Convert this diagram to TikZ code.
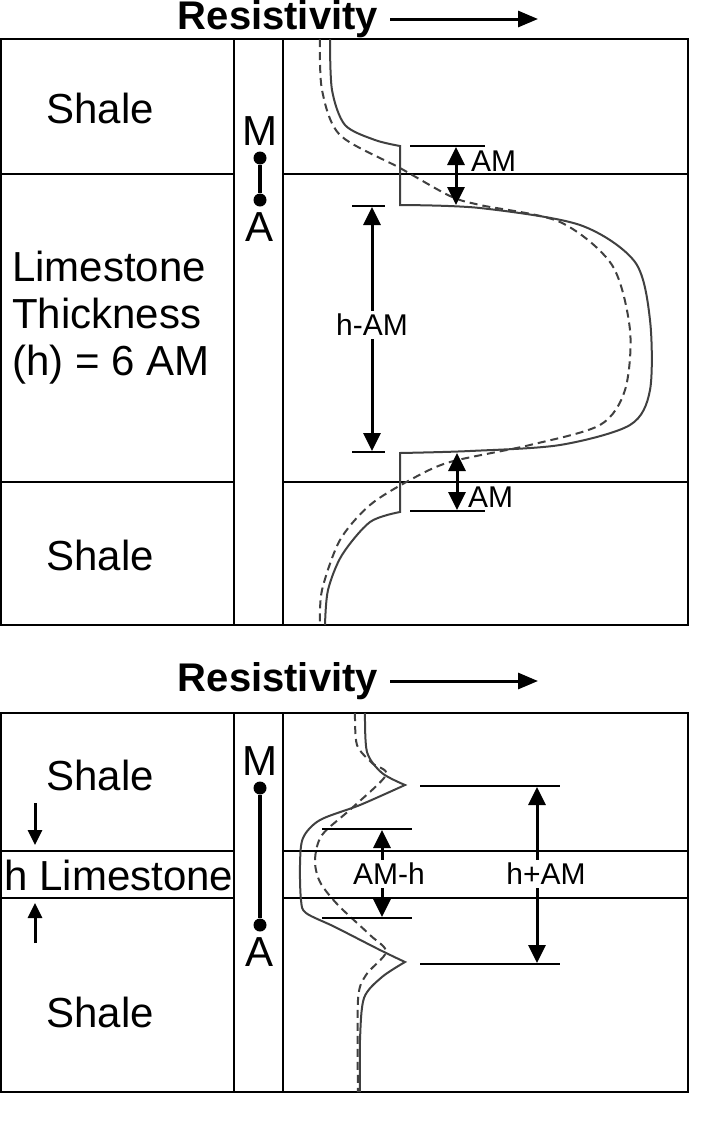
\documentclass[tikz,border=0pt]{standalone}
\usepackage{fontspec}
\setmainfont{Liberation Sans}
\usetikzlibrary{positioning}
\usetikzlibrary{arrows.meta}
\tikzstyle{bignode} = [font=\fontsize{42}{47}\selectfont, inner sep=0pt]
\tikzstyle{smallnode} = [font=\fontsize{30}{34}\selectfont, inner sep=0pt]
\tikzstyle{titlenode} = [font=\fontsize{40}{47}\selectfont\bfseries, inner sep=0pt]
\tikzstyle{frame} = [line width=2pt]
\tikzstyle{tick} = [line width=1.8pt]
\tikzstyle{measure} = [line width=3pt, {Triangle[length=18pt,width=17pt]}-{Triangle[length=18pt,width=17pt]}]
\tikzstyle{dot} = [fill, circle, inner sep=0pt, minimum size=13pt]
\tikzstyle{logcurve} = [line width=2pt, black!75]
\tikzstyle{logdash} = [logcurve, dash pattern=on 8pt off 5pt]
\begin{document}
\begin{tikzpicture}[x=1pt, y=-1pt]
  \useasboundingbox (0,0) rectangle (718,1133);

  % upper log
  \node[titlenode] (title1) at (278,19) {Resistivity};
  \coordinate (t1s) at (390,19);
  \coordinate (t1e) at (538,19);
  \draw[line width=3pt, -{Triangle[length=20pt,width=16pt]}] (t1s) -- (t1e);

  \draw[frame] (1,39) rectangle (688,625);
  \draw[frame] (234,39) -- (234,625);
  \draw[frame] (283,39) -- (283,625);
  \draw[frame] (1,174) -- (234,174) (283,174) -- (688,174);
  \draw[frame] (1,482) -- (234,482) (283,482) -- (688,482);

  \node[bignode] (shale1) at (100,108) {Shale};
  \node[bignode, align=left, anchor=west] (lime1) at (12,318) {Limestone\\Thickness\\(h) = 6 AM};
  \node[bignode] (shale2) at (100,555) {Shale};

  \node[dot] (m1) at (260,158) {};
  \node[dot] (a1) at (260,200) {};
  \node[bignode, above=6pt of m1] (mlab1) {M};
  \node[bignode, below=6pt of a1] (alab1) {A};
  \draw[line width=3.5pt] (m1) -- (a1);

  \draw[logcurve] plot[smooth] coordinates {(330,39) (332,90) (345,125) (375,140) (400,146)}
    -- (400,205) -- plot[smooth] coordinates {(400,205) (480,208) (580,225) (635,262) (650,320) (650,390) (630,425) (560,445) (470,451) (400,453)}
    -- (400,512) -- plot[smooth] coordinates {(400,512) (370,522) (342,555) (328,590) (325,625)};
  \draw[logdash] plot[smooth] coordinates {(320,39) (322,90) (340,135) (400,168) (450,196) (480,205) (560,222) (612,265) (630,330) (625,390) (600,425) (530,445) (450,462) (410,480) (370,505) (340,540) (322,590) (320,625)};

  \draw[tick] (410,146) -- (485,146);
  \draw[tick] (352,206) -- (385,206);
  \draw[tick] (352,452) -- (385,452);
  \draw[tick] (410,511) -- (485,511);
  \coordinate (am1t) at (456,147);
  \coordinate (am1b) at (456,205);
  \coordinate (hamt) at (372,207);
  \coordinate (hamb) at (372,451);
  \coordinate (am2t) at (457,453);
  \coordinate (am2b) at (457,510);
  \draw[measure] (am1t) -- (am1b);
  \draw[measure] (hamt) -- (hamb);
  \draw[measure] (am2t) -- (am2b);
  \node[smallnode, fill=white, inner sep=3pt] (hamlab) at (372,325) {h-AM};
  \node[smallnode, anchor=west] (amlab1) at (471,161) {AM};
  \node[smallnode, anchor=west] (amlab2) at (468,497) {AM};

  % lower log
  \node[titlenode] (title2) at (278,681) {Resistivity};
  \coordinate (t2s) at (390,681);
  \coordinate (t2e) at (538,681);
  \draw[line width=3pt, -{Triangle[length=20pt,width=16pt]}] (t2s) -- (t2e);

  \draw[frame] (1,713) rectangle (688,1092);
  \draw[frame] (234,713) -- (234,1092);
  \draw[frame] (283,713) -- (283,1092);
  \draw[frame] (1,851) -- (234,851) (283,851) -- (688,851);
  \draw[frame] (1,898) -- (234,898) (283,898) -- (688,898);

  \node[bignode] (shale3) at (100,775) {Shale};
  \node[bignode] (lime2) at (119,875) {h Limestone};
  \node[bignode] (shale4) at (100,1012) {Shale};
  \coordinate (hd1) at (35,803);
  \coordinate (hd2) at (35,845);
  \coordinate (hu1) at (35,943);
  \coordinate (hu2) at (35,903);
  \draw[line width=3pt, -{Triangle[length=15pt,width=14pt]}] (hd1) -- (hd2);
  \draw[line width=3pt, -{Triangle[length=15pt,width=14pt]}] (hu1) -- (hu2);

  \node[dot] (m2) at (260,788) {};
  \node[dot] (a2) at (260,925) {};
  \node[bignode, above=6pt of m2] (mlab2) {M};
  \node[bignode, below=6pt of a2] (alab2) {A};
  \draw[line width=3.5pt] (m2) -- (a2);

  \draw[logcurve] plot[smooth] coordinates {(365,713) (367,752) (382,773) (405,785)}
    -- plot[smooth] coordinates {(405,785) (360,805) (320,820) (303,838) (300,865) (301,900) (306,913) (335,927) (380,950) (405,962)}
    -- plot[smooth] coordinates {(405,962) (382,977) (364,998) (360,1040) (360,1092)};
  \draw[logdash] plot[smooth] coordinates {(355,713) (357,745) (372,763) (386,775) (352,808) (322,835) (315,860) (320,882) (338,905) (370,935) (386,952) (366,975) (358,1000) (358,1092)};

  \draw[tick] (322,829) -- (412,829);
  \draw[tick] (322,918) -- (412,918);
  \draw[tick] (420,786) -- (560,786);
  \draw[tick] (420,964) -- (560,964);
  \coordinate (amht) at (382,830);
  \coordinate (amhb) at (382,917);
  \coordinate (hamt2) at (537,787);
  \coordinate (hamb2) at (537,963);
  \draw[measure] (amht) -- (amhb);
  \draw[measure] (hamt2) -- (hamb2);
  \node[smallnode, fill=white, inner sep=3pt] (amhlab) at (389,874) {AM-h};
  \node[smallnode, fill=white, inner sep=3pt] (hamlab2) at (546,874) {h+AM};
\end{tikzpicture}
\end{document}
